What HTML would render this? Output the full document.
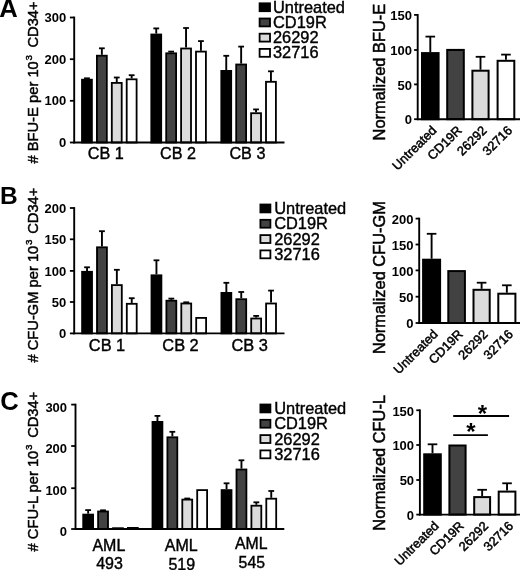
<!DOCTYPE html>
<html lang="en"><head><meta charset="utf-8"><title>Figure</title>
<style>
html,body{margin:0;padding:0;background:#fff;}
body{width:520px;height:570px;overflow:hidden;}
svg{display:block;font-family:"Liberation Sans", Arial, Helvetica, sans-serif;fill:#000;}
</style></head><body>
<svg width="520" height="570" viewBox="0 0 520 570">
<defs><filter id="soft" x="0" y="0" width="520" height="570" filterUnits="userSpaceOnUse"><feGaussianBlur stdDeviation="0.42"/></filter></defs>
<rect x="0" y="0" width="520" height="570" fill="#fff"/>
<g filter="url(#soft)">
<rect x="0" y="0" width="520" height="570" fill="#fff"/>
<line x1="74.20" y1="16.60" x2="74.20" y2="143.40" stroke="#000" stroke-width="1.9"/>
<line x1="69.90" y1="17.50" x2="74.20" y2="17.50" stroke="#000" stroke-width="1.8"/>
<text x="66.20" y="21.98" font-size="13" font-weight="bold" text-anchor="end">300</text>
<line x1="69.90" y1="59.20" x2="74.20" y2="59.20" stroke="#000" stroke-width="1.8"/>
<text x="66.20" y="63.68" font-size="13" font-weight="bold" text-anchor="end">200</text>
<line x1="69.90" y1="100.80" x2="74.20" y2="100.80" stroke="#000" stroke-width="1.8"/>
<text x="66.20" y="105.28" font-size="13" font-weight="bold" text-anchor="end">100</text>
<line x1="69.90" y1="142.50" x2="74.20" y2="142.50" stroke="#000" stroke-width="1.8"/>
<text x="66.20" y="146.98" font-size="13" font-weight="bold" text-anchor="end">0</text>
<line x1="86.95" y1="78.80" x2="86.95" y2="78.30" stroke="#000" stroke-width="1.9"/>
<line x1="84.05" y1="78.30" x2="89.85" y2="78.30" stroke="#000" stroke-width="1.8"/>
<rect x="82.00" y="79.70" width="9.90" height="62.80" fill="#000000" stroke="#000" stroke-width="1.8"/>
<line x1="101.85" y1="54.80" x2="101.85" y2="48.30" stroke="#000" stroke-width="1.9"/>
<line x1="98.95" y1="48.30" x2="104.75" y2="48.30" stroke="#000" stroke-width="1.8"/>
<rect x="96.90" y="55.70" width="9.90" height="86.80" fill="#434343" stroke="#000" stroke-width="1.8"/>
<line x1="116.75" y1="82.00" x2="116.75" y2="77.50" stroke="#000" stroke-width="1.9"/>
<line x1="113.85" y1="77.50" x2="119.65" y2="77.50" stroke="#000" stroke-width="1.8"/>
<rect x="111.80" y="82.90" width="9.90" height="59.60" fill="#dbdbdb" stroke="#000" stroke-width="1.8"/>
<line x1="131.65" y1="78.40" x2="131.65" y2="75.20" stroke="#000" stroke-width="1.9"/>
<line x1="128.75" y1="75.20" x2="134.55" y2="75.20" stroke="#000" stroke-width="1.8"/>
<rect x="126.70" y="79.30" width="9.90" height="63.20" fill="#ffffff" stroke="#000" stroke-width="1.8"/>
<line x1="156.25" y1="33.60" x2="156.25" y2="28.40" stroke="#000" stroke-width="1.9"/>
<line x1="153.35" y1="28.40" x2="159.15" y2="28.40" stroke="#000" stroke-width="1.8"/>
<rect x="151.30" y="34.50" width="9.90" height="108.00" fill="#000000" stroke="#000" stroke-width="1.8"/>
<line x1="171.15" y1="52.40" x2="171.15" y2="51.60" stroke="#000" stroke-width="1.9"/>
<line x1="168.25" y1="51.60" x2="174.05" y2="51.60" stroke="#000" stroke-width="1.8"/>
<rect x="166.20" y="53.30" width="9.90" height="89.20" fill="#434343" stroke="#000" stroke-width="1.8"/>
<line x1="186.05" y1="47.60" x2="186.05" y2="28.00" stroke="#000" stroke-width="1.9"/>
<line x1="183.15" y1="28.00" x2="188.95" y2="28.00" stroke="#000" stroke-width="1.8"/>
<rect x="181.10" y="48.50" width="9.90" height="94.00" fill="#dbdbdb" stroke="#000" stroke-width="1.8"/>
<line x1="200.95" y1="50.70" x2="200.95" y2="41.10" stroke="#000" stroke-width="1.9"/>
<line x1="198.05" y1="41.10" x2="203.85" y2="41.10" stroke="#000" stroke-width="1.8"/>
<rect x="196.00" y="51.60" width="9.90" height="90.90" fill="#ffffff" stroke="#000" stroke-width="1.8"/>
<line x1="226.25" y1="70.00" x2="226.25" y2="55.80" stroke="#000" stroke-width="1.9"/>
<line x1="223.35" y1="55.80" x2="229.15" y2="55.80" stroke="#000" stroke-width="1.8"/>
<rect x="221.30" y="70.90" width="9.90" height="71.60" fill="#000000" stroke="#000" stroke-width="1.8"/>
<line x1="241.15" y1="63.60" x2="241.15" y2="46.60" stroke="#000" stroke-width="1.9"/>
<line x1="238.25" y1="46.60" x2="244.05" y2="46.60" stroke="#000" stroke-width="1.8"/>
<rect x="236.20" y="64.50" width="9.90" height="78.00" fill="#434343" stroke="#000" stroke-width="1.8"/>
<line x1="256.05" y1="112.30" x2="256.05" y2="109.40" stroke="#000" stroke-width="1.9"/>
<line x1="253.15" y1="109.40" x2="258.95" y2="109.40" stroke="#000" stroke-width="1.8"/>
<rect x="251.10" y="113.20" width="9.90" height="29.30" fill="#dbdbdb" stroke="#000" stroke-width="1.8"/>
<line x1="270.95" y1="80.90" x2="270.95" y2="71.30" stroke="#000" stroke-width="1.9"/>
<line x1="268.05" y1="71.30" x2="273.85" y2="71.30" stroke="#000" stroke-width="1.8"/>
<rect x="266.00" y="81.80" width="9.90" height="60.70" fill="#ffffff" stroke="#000" stroke-width="1.8"/>
<line x1="73.30" y1="142.50" x2="284.50" y2="142.50" stroke="#000" stroke-width="1.9"/>
<text x="87.80" y="159.40" font-size="16.2" font-weight="normal" text-anchor="start" stroke="#000" stroke-width="0.4">CB 1</text>
<text x="160.10" y="159.40" font-size="16.2" font-weight="normal" text-anchor="start" stroke="#000" stroke-width="0.4">CB 2</text>
<text x="229.40" y="159.40" font-size="16.2" font-weight="normal" text-anchor="start" stroke="#000" stroke-width="0.4">CB 3</text>
<line x1="74.20" y1="207.10" x2="74.20" y2="334.30" stroke="#000" stroke-width="1.9"/>
<line x1="69.90" y1="208.00" x2="74.20" y2="208.00" stroke="#000" stroke-width="1.8"/>
<text x="66.20" y="213.08" font-size="13" font-weight="bold" text-anchor="end">200</text>
<line x1="69.90" y1="239.30" x2="74.20" y2="239.30" stroke="#000" stroke-width="1.8"/>
<text x="66.20" y="244.38" font-size="13" font-weight="bold" text-anchor="end">150</text>
<line x1="69.90" y1="270.90" x2="74.20" y2="270.90" stroke="#000" stroke-width="1.8"/>
<text x="66.20" y="275.98" font-size="13" font-weight="bold" text-anchor="end">100</text>
<line x1="69.90" y1="302.00" x2="74.20" y2="302.00" stroke="#000" stroke-width="1.8"/>
<text x="66.20" y="307.08" font-size="13" font-weight="bold" text-anchor="end">50</text>
<line x1="69.90" y1="333.40" x2="74.20" y2="333.40" stroke="#000" stroke-width="1.8"/>
<text x="66.20" y="338.48" font-size="13" font-weight="bold" text-anchor="end">0</text>
<line x1="87.05" y1="270.90" x2="87.05" y2="267.30" stroke="#000" stroke-width="1.9"/>
<line x1="84.15" y1="267.30" x2="89.95" y2="267.30" stroke="#000" stroke-width="1.8"/>
<rect x="82.10" y="271.80" width="9.90" height="61.60" fill="#000000" stroke="#000" stroke-width="1.8"/>
<line x1="101.95" y1="246.40" x2="101.95" y2="231.20" stroke="#000" stroke-width="1.9"/>
<line x1="99.05" y1="231.20" x2="104.85" y2="231.20" stroke="#000" stroke-width="1.8"/>
<rect x="97.00" y="247.30" width="9.90" height="86.10" fill="#434343" stroke="#000" stroke-width="1.8"/>
<line x1="116.85" y1="284.20" x2="116.85" y2="269.80" stroke="#000" stroke-width="1.9"/>
<line x1="113.95" y1="269.80" x2="119.75" y2="269.80" stroke="#000" stroke-width="1.8"/>
<rect x="111.90" y="285.10" width="9.90" height="48.30" fill="#dbdbdb" stroke="#000" stroke-width="1.8"/>
<line x1="131.75" y1="302.90" x2="131.75" y2="298.20" stroke="#000" stroke-width="1.9"/>
<line x1="128.85" y1="298.20" x2="134.65" y2="298.20" stroke="#000" stroke-width="1.8"/>
<rect x="126.80" y="303.80" width="9.90" height="29.60" fill="#ffffff" stroke="#000" stroke-width="1.8"/>
<line x1="156.45" y1="274.40" x2="156.45" y2="260.30" stroke="#000" stroke-width="1.9"/>
<line x1="153.55" y1="260.30" x2="159.35" y2="260.30" stroke="#000" stroke-width="1.8"/>
<rect x="151.50" y="275.30" width="9.90" height="58.10" fill="#000000" stroke="#000" stroke-width="1.8"/>
<line x1="171.35" y1="299.80" x2="171.35" y2="298.60" stroke="#000" stroke-width="1.9"/>
<line x1="168.45" y1="298.60" x2="174.25" y2="298.60" stroke="#000" stroke-width="1.8"/>
<rect x="166.40" y="300.70" width="9.90" height="32.70" fill="#434343" stroke="#000" stroke-width="1.8"/>
<line x1="186.25" y1="302.60" x2="186.25" y2="302.30" stroke="#000" stroke-width="1.9"/>
<line x1="183.35" y1="302.30" x2="189.15" y2="302.30" stroke="#000" stroke-width="1.8"/>
<rect x="181.30" y="303.50" width="9.90" height="29.90" fill="#dbdbdb" stroke="#000" stroke-width="1.8"/>
<rect x="196.20" y="317.90" width="9.90" height="15.50" fill="#ffffff" stroke="#000" stroke-width="1.8"/>
<line x1="226.35" y1="292.00" x2="226.35" y2="282.80" stroke="#000" stroke-width="1.9"/>
<line x1="223.45" y1="282.80" x2="229.25" y2="282.80" stroke="#000" stroke-width="1.8"/>
<rect x="221.40" y="292.90" width="9.90" height="40.50" fill="#000000" stroke="#000" stroke-width="1.8"/>
<line x1="241.25" y1="298.30" x2="241.25" y2="292.00" stroke="#000" stroke-width="1.9"/>
<line x1="238.35" y1="292.00" x2="244.15" y2="292.00" stroke="#000" stroke-width="1.8"/>
<rect x="236.30" y="299.20" width="9.90" height="34.20" fill="#434343" stroke="#000" stroke-width="1.8"/>
<line x1="256.15" y1="317.60" x2="256.15" y2="315.90" stroke="#000" stroke-width="1.9"/>
<line x1="253.25" y1="315.90" x2="259.05" y2="315.90" stroke="#000" stroke-width="1.8"/>
<rect x="251.20" y="318.50" width="9.90" height="14.90" fill="#dbdbdb" stroke="#000" stroke-width="1.8"/>
<line x1="271.05" y1="302.60" x2="271.05" y2="290.60" stroke="#000" stroke-width="1.9"/>
<line x1="268.15" y1="290.60" x2="273.95" y2="290.60" stroke="#000" stroke-width="1.8"/>
<rect x="266.10" y="303.50" width="9.90" height="29.90" fill="#ffffff" stroke="#000" stroke-width="1.8"/>
<line x1="73.30" y1="333.40" x2="284.50" y2="333.40" stroke="#000" stroke-width="1.9"/>
<text x="88.80" y="351.30" font-size="16.4" font-weight="normal" text-anchor="start" stroke="#000" stroke-width="0.4">CB 1</text>
<text x="162.30" y="351.30" font-size="16.4" font-weight="normal" text-anchor="start" stroke="#000" stroke-width="0.4">CB 2</text>
<text x="231.50" y="351.30" font-size="16.4" font-weight="normal" text-anchor="start" stroke="#000" stroke-width="0.4">CB 3</text>
<line x1="75.50" y1="403.70" x2="75.50" y2="529.90" stroke="#000" stroke-width="1.9"/>
<line x1="71.20" y1="404.60" x2="75.50" y2="404.60" stroke="#000" stroke-width="1.8"/>
<text x="67.10" y="411.58" font-size="13" font-weight="bold" text-anchor="end">300</text>
<line x1="71.20" y1="446.00" x2="75.50" y2="446.00" stroke="#000" stroke-width="1.8"/>
<text x="67.10" y="452.98" font-size="13" font-weight="bold" text-anchor="end">200</text>
<line x1="71.20" y1="488.20" x2="75.50" y2="488.20" stroke="#000" stroke-width="1.8"/>
<text x="67.10" y="495.18" font-size="13" font-weight="bold" text-anchor="end">100</text>
<line x1="71.20" y1="529.00" x2="75.50" y2="529.00" stroke="#000" stroke-width="1.8"/>
<text x="67.10" y="535.98" font-size="13" font-weight="bold" text-anchor="end">0</text>
<line x1="88.15" y1="513.70" x2="88.15" y2="510.10" stroke="#000" stroke-width="1.9"/>
<line x1="85.25" y1="510.10" x2="91.05" y2="510.10" stroke="#000" stroke-width="1.8"/>
<rect x="83.20" y="514.60" width="9.90" height="14.40" fill="#000000" stroke="#000" stroke-width="1.8"/>
<line x1="103.05" y1="510.60" x2="103.05" y2="510.30" stroke="#000" stroke-width="1.9"/>
<line x1="100.15" y1="510.30" x2="105.95" y2="510.30" stroke="#000" stroke-width="1.8"/>
<rect x="98.10" y="511.50" width="9.90" height="17.50" fill="#434343" stroke="#000" stroke-width="1.8"/>
<rect x="113.00" y="528.20" width="9.90" height="0.80" fill="#dbdbdb" stroke="#000" stroke-width="1.8"/>
<rect x="127.90" y="527.90" width="9.90" height="1.10" fill="#ffffff" stroke="#000" stroke-width="1.8"/>
<line x1="157.45" y1="421.00" x2="157.45" y2="415.90" stroke="#000" stroke-width="1.9"/>
<line x1="154.55" y1="415.90" x2="160.35" y2="415.90" stroke="#000" stroke-width="1.8"/>
<rect x="152.50" y="421.90" width="9.90" height="107.10" fill="#000000" stroke="#000" stroke-width="1.8"/>
<line x1="172.35" y1="436.40" x2="172.35" y2="431.80" stroke="#000" stroke-width="1.9"/>
<line x1="169.45" y1="431.80" x2="175.25" y2="431.80" stroke="#000" stroke-width="1.8"/>
<rect x="167.40" y="437.30" width="9.90" height="91.70" fill="#434343" stroke="#000" stroke-width="1.8"/>
<line x1="187.25" y1="498.70" x2="187.25" y2="498.50" stroke="#000" stroke-width="1.9"/>
<line x1="184.35" y1="498.50" x2="190.15" y2="498.50" stroke="#000" stroke-width="1.8"/>
<rect x="182.30" y="499.60" width="9.90" height="29.40" fill="#dbdbdb" stroke="#000" stroke-width="1.8"/>
<rect x="197.20" y="490.10" width="9.90" height="38.90" fill="#ffffff" stroke="#000" stroke-width="1.8"/>
<line x1="226.55" y1="489.20" x2="226.55" y2="483.30" stroke="#000" stroke-width="1.9"/>
<line x1="223.65" y1="483.30" x2="229.45" y2="483.30" stroke="#000" stroke-width="1.8"/>
<rect x="221.60" y="490.10" width="9.90" height="38.90" fill="#000000" stroke="#000" stroke-width="1.8"/>
<line x1="241.45" y1="468.60" x2="241.45" y2="460.30" stroke="#000" stroke-width="1.9"/>
<line x1="238.55" y1="460.30" x2="244.35" y2="460.30" stroke="#000" stroke-width="1.8"/>
<rect x="236.50" y="469.50" width="9.90" height="59.50" fill="#434343" stroke="#000" stroke-width="1.8"/>
<line x1="256.35" y1="504.80" x2="256.35" y2="502.30" stroke="#000" stroke-width="1.9"/>
<line x1="253.45" y1="502.30" x2="259.25" y2="502.30" stroke="#000" stroke-width="1.8"/>
<rect x="251.40" y="505.70" width="9.90" height="23.30" fill="#dbdbdb" stroke="#000" stroke-width="1.8"/>
<line x1="271.25" y1="497.80" x2="271.25" y2="491.00" stroke="#000" stroke-width="1.9"/>
<line x1="268.35" y1="491.00" x2="274.15" y2="491.00" stroke="#000" stroke-width="1.8"/>
<rect x="266.30" y="498.70" width="9.90" height="30.30" fill="#ffffff" stroke="#000" stroke-width="1.8"/>
<line x1="74.60" y1="529.00" x2="284.30" y2="529.00" stroke="#000" stroke-width="1.9"/>
<text x="108.90" y="550.80" font-size="16" font-weight="normal" text-anchor="middle" stroke="#000" stroke-width="0.4">AML</text>
<text x="109.50" y="569.40" font-size="16" font-weight="normal" text-anchor="middle" stroke="#000" stroke-width="0.4">493</text>
<text x="181.20" y="551.00" font-size="16" font-weight="normal" text-anchor="middle" stroke="#000" stroke-width="0.4">AML</text>
<text x="181.80" y="569.50" font-size="16" font-weight="normal" text-anchor="middle" stroke="#000" stroke-width="0.4">519</text>
<text x="251.20" y="548.70" font-size="15.8" font-weight="normal" text-anchor="middle" stroke="#000" stroke-width="0.4">AML</text>
<text x="251.80" y="568.30" font-size="15.8" font-weight="normal" text-anchor="middle" stroke="#000" stroke-width="0.4">545</text>
<text x="37.70" y="163.50" font-size="14.7" font-weight="normal" text-anchor="start" transform="rotate(-90 37.70 163.50)" stroke="#000" stroke-width="0.45"># BFU-E<tspan dx="0.2"> per 10</tspan><tspan font-size="9.8" dy="-5.5" dx="0.8">3</tspan><tspan dy="5.5" dx="7.5">CD34+</tspan></text>
<text x="37.70" y="362.50" font-size="14.7" font-weight="normal" text-anchor="start" transform="rotate(-90 37.70 362.50)" stroke="#000" stroke-width="0.45"># CFU-GM<tspan dx="0"> per 10</tspan><tspan font-size="9.8" dy="-5.5" dx="0.8">3</tspan><tspan dy="5.5" dx="5.7">CD34+</tspan></text>
<text x="37.70" y="551.40" font-size="14.7" font-weight="normal" text-anchor="start" transform="rotate(-90 37.70 551.40)" stroke="#000" stroke-width="0.45"># CFU-L<tspan dx="0"> per 10</tspan><tspan font-size="9.8" dy="-5.5" dx="0.8">3</tspan><tspan dy="5.5" dx="6.6">CD34+</tspan></text>
<text x="-0.70" y="17.40" font-size="25.6" font-weight="bold" text-anchor="start">A</text>
<text x="0.00" y="204.00" font-size="24.5" font-weight="bold" text-anchor="start">B</text>
<text x="0.30" y="410.40" font-size="25.6" font-weight="bold" text-anchor="start">C</text>
<rect x="259.60" y="3.30" width="10.40" height="7.90" fill="#000000" stroke="#000" stroke-width="1.8"/>
<text x="273.00" y="12.80" font-size="16.4" font-weight="normal" text-anchor="start" stroke="#000" stroke-width="0.4">Untreated</text>
<rect x="259.60" y="18.50" width="10.40" height="7.90" fill="#434343" stroke="#000" stroke-width="1.8"/>
<text x="273.00" y="28.00" font-size="16.4" font-weight="normal" text-anchor="start" stroke="#000" stroke-width="0.4">CD19R</text>
<rect x="259.60" y="33.70" width="10.40" height="7.90" fill="#dbdbdb" stroke="#000" stroke-width="1.8"/>
<text x="273.00" y="43.20" font-size="16.4" font-weight="normal" text-anchor="start" stroke="#000" stroke-width="0.4">26292</text>
<rect x="259.60" y="48.90" width="10.40" height="7.90" fill="#ffffff" stroke="#000" stroke-width="1.8"/>
<text x="273.00" y="58.40" font-size="16.4" font-weight="normal" text-anchor="start" stroke="#000" stroke-width="0.4">32716</text>
<rect x="260.40" y="204.50" width="10.00" height="7.90" fill="#000000" stroke="#000" stroke-width="1.8"/>
<text x="274.20" y="214.00" font-size="16.4" font-weight="normal" text-anchor="start" stroke="#000" stroke-width="0.4">Untreated</text>
<rect x="260.40" y="219.80" width="10.00" height="7.90" fill="#434343" stroke="#000" stroke-width="1.8"/>
<text x="274.20" y="229.30" font-size="16.4" font-weight="normal" text-anchor="start" stroke="#000" stroke-width="0.4">CD19R</text>
<rect x="260.40" y="235.10" width="10.00" height="7.90" fill="#dbdbdb" stroke="#000" stroke-width="1.8"/>
<text x="274.20" y="244.60" font-size="16.4" font-weight="normal" text-anchor="start" stroke="#000" stroke-width="0.4">26292</text>
<rect x="260.40" y="250.40" width="10.00" height="7.90" fill="#ffffff" stroke="#000" stroke-width="1.8"/>
<text x="274.20" y="259.90" font-size="16.4" font-weight="normal" text-anchor="start" stroke="#000" stroke-width="0.4">32716</text>
<rect x="260.40" y="404.50" width="10.00" height="7.90" fill="#000000" stroke="#000" stroke-width="1.8"/>
<text x="274.20" y="414.00" font-size="16.4" font-weight="normal" text-anchor="start" stroke="#000" stroke-width="0.4">Untreated</text>
<rect x="260.40" y="419.80" width="10.00" height="7.90" fill="#434343" stroke="#000" stroke-width="1.8"/>
<text x="274.20" y="429.30" font-size="16.4" font-weight="normal" text-anchor="start" stroke="#000" stroke-width="0.4">CD19R</text>
<rect x="260.40" y="435.10" width="10.00" height="7.90" fill="#dbdbdb" stroke="#000" stroke-width="1.8"/>
<text x="274.20" y="444.60" font-size="16.4" font-weight="normal" text-anchor="start" stroke="#000" stroke-width="0.4">26292</text>
<rect x="260.40" y="450.40" width="10.00" height="7.90" fill="#ffffff" stroke="#000" stroke-width="1.8"/>
<text x="274.20" y="459.90" font-size="16.4" font-weight="normal" text-anchor="start" stroke="#000" stroke-width="0.4">32716</text>
<line x1="417.70" y1="14.00" x2="417.70" y2="120.10" stroke="#000" stroke-width="1.9"/>
<line x1="414.10" y1="14.90" x2="417.70" y2="14.90" stroke="#000" stroke-width="1.8"/>
<text x="411.90" y="20.18" font-size="13" font-weight="bold" text-anchor="end">150</text>
<line x1="414.10" y1="50.00" x2="417.70" y2="50.00" stroke="#000" stroke-width="1.8"/>
<text x="411.90" y="55.28" font-size="13" font-weight="bold" text-anchor="end">100</text>
<line x1="414.10" y1="84.40" x2="417.70" y2="84.40" stroke="#000" stroke-width="1.8"/>
<text x="411.90" y="89.68" font-size="13" font-weight="bold" text-anchor="end">50</text>
<line x1="414.10" y1="119.20" x2="417.70" y2="119.20" stroke="#000" stroke-width="1.8"/>
<text x="411.90" y="124.48" font-size="13" font-weight="bold" text-anchor="end">0</text>
<line x1="430.30" y1="52.10" x2="430.30" y2="36.60" stroke="#000" stroke-width="1.9"/>
<line x1="425.50" y1="36.60" x2="435.10" y2="36.60" stroke="#000" stroke-width="1.8"/>
<rect x="422.00" y="53.10" width="16.60" height="66.10" fill="#000000" stroke="#000" stroke-width="2.0"/>
<rect x="447.20" y="49.90" width="16.60" height="69.30" fill="#434343" stroke="#000" stroke-width="2.0"/>
<line x1="480.50" y1="69.70" x2="480.50" y2="56.80" stroke="#000" stroke-width="1.9"/>
<line x1="475.70" y1="56.80" x2="485.30" y2="56.80" stroke="#000" stroke-width="1.8"/>
<rect x="472.40" y="70.70" width="16.20" height="48.50" fill="#dbdbdb" stroke="#000" stroke-width="2.0"/>
<line x1="505.95" y1="59.80" x2="505.95" y2="54.60" stroke="#000" stroke-width="1.9"/>
<line x1="501.15" y1="54.60" x2="510.75" y2="54.60" stroke="#000" stroke-width="1.8"/>
<rect x="497.60" y="60.80" width="16.70" height="58.40" fill="#ffffff" stroke="#000" stroke-width="2.0"/>
<line x1="416.80" y1="119.20" x2="520.00" y2="119.20" stroke="#000" stroke-width="1.9"/>
<text x="437.30" y="131.20" font-size="12.8" font-weight="normal" text-anchor="end" transform="rotate(-45 437.30 131.20)" stroke="#000" stroke-width="0.5">Untreated</text>
<text x="462.50" y="131.20" font-size="12.8" font-weight="normal" text-anchor="end" transform="rotate(-45 462.50 131.20)" stroke="#000" stroke-width="0.5">CD19R</text>
<text x="487.50" y="131.20" font-size="12.8" font-weight="normal" text-anchor="end" transform="rotate(-45 487.50 131.20)" stroke="#000" stroke-width="0.5">26292</text>
<text x="512.95" y="131.20" font-size="12.8" font-weight="normal" text-anchor="end" transform="rotate(-45 512.95 131.20)" stroke="#000" stroke-width="0.5">32716</text>
<text x="384.70" y="140.40" font-size="16.4" font-weight="normal" text-anchor="start" transform="rotate(-90 384.70 140.40)" stroke="#000" stroke-width="0.5">Normalized BFU-E</text>
<line x1="419.20" y1="217.70" x2="419.20" y2="323.90" stroke="#000" stroke-width="1.9"/>
<line x1="415.60" y1="218.60" x2="419.20" y2="218.60" stroke="#000" stroke-width="1.8"/>
<text x="413.40" y="223.88" font-size="13" font-weight="bold" text-anchor="end">200</text>
<line x1="415.60" y1="244.50" x2="419.20" y2="244.50" stroke="#000" stroke-width="1.8"/>
<text x="413.40" y="249.78" font-size="13" font-weight="bold" text-anchor="end">150</text>
<line x1="415.60" y1="270.40" x2="419.20" y2="270.40" stroke="#000" stroke-width="1.8"/>
<text x="413.40" y="275.68" font-size="13" font-weight="bold" text-anchor="end">100</text>
<line x1="415.60" y1="296.70" x2="419.20" y2="296.70" stroke="#000" stroke-width="1.8"/>
<text x="413.40" y="301.98" font-size="13" font-weight="bold" text-anchor="end">50</text>
<line x1="415.60" y1="323.00" x2="419.20" y2="323.00" stroke="#000" stroke-width="1.8"/>
<text x="413.40" y="328.28" font-size="13" font-weight="bold" text-anchor="end">0</text>
<line x1="431.60" y1="258.70" x2="431.60" y2="233.80" stroke="#000" stroke-width="1.9"/>
<line x1="426.80" y1="233.80" x2="436.40" y2="233.80" stroke="#000" stroke-width="1.8"/>
<rect x="423.10" y="259.70" width="17.00" height="63.30" fill="#000000" stroke="#000" stroke-width="2.0"/>
<rect x="448.30" y="271.10" width="16.60" height="51.90" fill="#434343" stroke="#000" stroke-width="2.0"/>
<line x1="481.60" y1="288.80" x2="481.60" y2="282.70" stroke="#000" stroke-width="1.9"/>
<line x1="476.80" y1="282.70" x2="486.40" y2="282.70" stroke="#000" stroke-width="1.8"/>
<rect x="473.50" y="289.80" width="16.20" height="33.20" fill="#dbdbdb" stroke="#000" stroke-width="2.0"/>
<line x1="506.85" y1="292.70" x2="506.85" y2="285.30" stroke="#000" stroke-width="1.9"/>
<line x1="502.05" y1="285.30" x2="511.65" y2="285.30" stroke="#000" stroke-width="1.8"/>
<rect x="498.30" y="293.70" width="17.10" height="29.30" fill="#ffffff" stroke="#000" stroke-width="2.0"/>
<line x1="418.30" y1="323.00" x2="520.00" y2="323.00" stroke="#000" stroke-width="1.9"/>
<text x="438.60" y="335.00" font-size="12.8" font-weight="normal" text-anchor="end" transform="rotate(-45 438.60 335.00)" stroke="#000" stroke-width="0.5">Untreated</text>
<text x="463.60" y="335.00" font-size="12.8" font-weight="normal" text-anchor="end" transform="rotate(-45 463.60 335.00)" stroke="#000" stroke-width="0.5">CD19R</text>
<text x="488.60" y="335.00" font-size="12.8" font-weight="normal" text-anchor="end" transform="rotate(-45 488.60 335.00)" stroke="#000" stroke-width="0.5">26292</text>
<text x="513.85" y="335.00" font-size="12.8" font-weight="normal" text-anchor="end" transform="rotate(-45 513.85 335.00)" stroke="#000" stroke-width="0.5">32716</text>
<text x="385.10" y="354.10" font-size="16.4" font-weight="normal" text-anchor="start" transform="rotate(-90 385.10 354.10)" stroke="#000" stroke-width="0.5">Normalized CFU-GM</text>
<line x1="419.90" y1="409.40" x2="419.90" y2="515.50" stroke="#000" stroke-width="1.9"/>
<line x1="416.30" y1="410.30" x2="419.90" y2="410.30" stroke="#000" stroke-width="1.8"/>
<text x="414.10" y="415.58" font-size="13" font-weight="bold" text-anchor="end">150</text>
<line x1="416.30" y1="445.00" x2="419.90" y2="445.00" stroke="#000" stroke-width="1.8"/>
<text x="414.10" y="450.28" font-size="13" font-weight="bold" text-anchor="end">100</text>
<line x1="416.30" y1="480.00" x2="419.90" y2="480.00" stroke="#000" stroke-width="1.8"/>
<text x="414.10" y="485.28" font-size="13" font-weight="bold" text-anchor="end">50</text>
<line x1="416.30" y1="514.60" x2="419.90" y2="514.60" stroke="#000" stroke-width="1.8"/>
<text x="414.10" y="519.88" font-size="13" font-weight="bold" text-anchor="end">0</text>
<line x1="432.50" y1="453.30" x2="432.50" y2="444.30" stroke="#000" stroke-width="1.9"/>
<line x1="427.70" y1="444.30" x2="437.30" y2="444.30" stroke="#000" stroke-width="1.8"/>
<rect x="424.20" y="454.30" width="16.60" height="60.30" fill="#000000" stroke="#000" stroke-width="2.0"/>
<rect x="449.40" y="445.50" width="16.20" height="69.10" fill="#434343" stroke="#000" stroke-width="2.0"/>
<line x1="482.15" y1="496.10" x2="482.15" y2="489.80" stroke="#000" stroke-width="1.9"/>
<line x1="477.35" y1="489.80" x2="486.95" y2="489.80" stroke="#000" stroke-width="1.8"/>
<rect x="474.20" y="497.10" width="15.90" height="17.50" fill="#dbdbdb" stroke="#000" stroke-width="2.0"/>
<line x1="507.05" y1="490.60" x2="507.05" y2="483.30" stroke="#000" stroke-width="1.9"/>
<line x1="502.25" y1="483.30" x2="511.85" y2="483.30" stroke="#000" stroke-width="1.8"/>
<rect x="498.70" y="491.60" width="16.70" height="23.00" fill="#ffffff" stroke="#000" stroke-width="2.0"/>
<line x1="419.00" y1="514.60" x2="520.00" y2="514.60" stroke="#000" stroke-width="1.9"/>
<text x="439.50" y="526.60" font-size="12.8" font-weight="normal" text-anchor="end" transform="rotate(-45 439.50 526.60)" stroke="#000" stroke-width="0.5">Untreated</text>
<text x="464.50" y="526.60" font-size="12.8" font-weight="normal" text-anchor="end" transform="rotate(-45 464.50 526.60)" stroke="#000" stroke-width="0.5">CD19R</text>
<text x="489.15" y="526.60" font-size="12.8" font-weight="normal" text-anchor="end" transform="rotate(-45 489.15 526.60)" stroke="#000" stroke-width="0.5">26292</text>
<text x="514.05" y="526.60" font-size="12.8" font-weight="normal" text-anchor="end" transform="rotate(-45 514.05 526.60)" stroke="#000" stroke-width="0.5">32716</text>
<text x="385.50" y="530.70" font-size="16.4" font-weight="normal" text-anchor="start" transform="rotate(-90 385.50 530.70)" stroke="#000" stroke-width="0.5">Normalized CFU-L</text>
<line x1="453.20" y1="416.00" x2="509.10" y2="416.00" stroke="#000" stroke-width="1.8"/>
<line x1="453.20" y1="435.10" x2="487.90" y2="435.10" stroke="#000" stroke-width="1.8"/>
<text x="482.40" y="421.50" font-size="24" font-weight="bold" text-anchor="middle">*</text>
<text x="470.80" y="440.30" font-size="24" font-weight="bold" text-anchor="middle">*</text>
</g>
</svg>
</body></html>
